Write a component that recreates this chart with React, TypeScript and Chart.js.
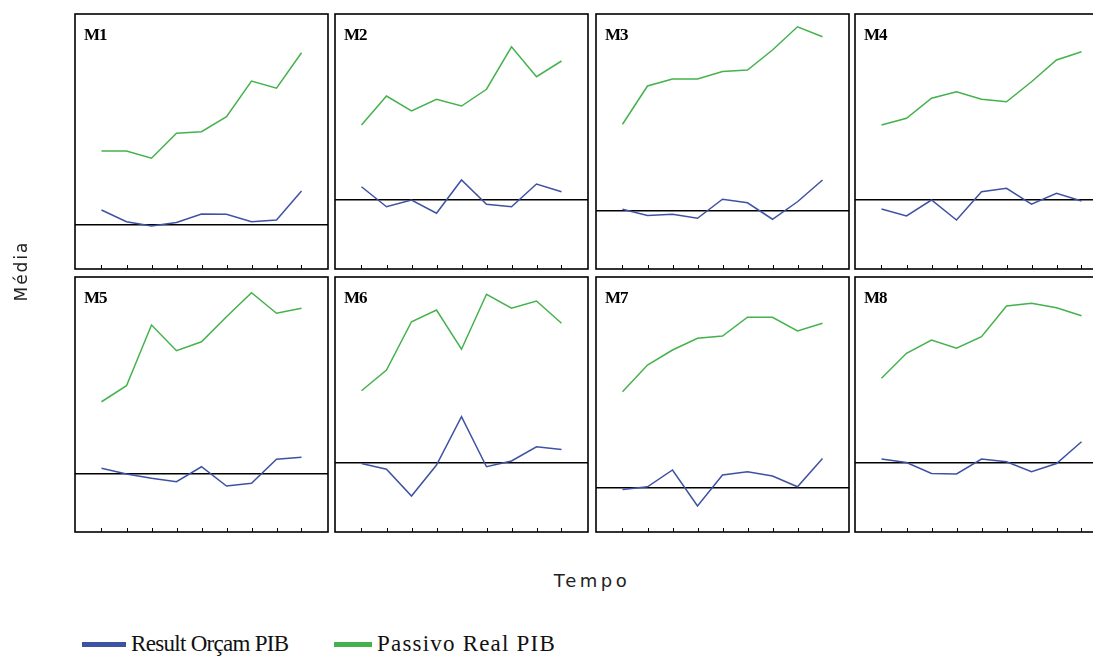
import React, { useEffect, useRef } from "react";
import { Chart, registerables } from "chart.js";

Chart.register(...registerables);

// ---- data ----
const periodos = ["1", "2", "3", "4", "5", "6", "7", "8", "9"];
const paineis = ["M1", "M2", "M3", "M4", "M5", "M6", "M7", "M8"];

const resultM1 = [5.7, 1.0, -0.7, 0.7, 4.1, 4.0, 1.0, 1.7, 13.3];
const resultM2 = [5.0, -3.0, -0.3, -5.6, 7.7, -2.0, -3.0, 6.1, 3.0];
const resultM3 = [0.4, -2.1, -1.6, -3.2, 4.4, 3.0, -3.6, 3.4, 12.1];
const resultM4 = [-3.9, -6.7, -0.3, -8.3, 3.0, 4.4, -2.0, 2.4, -0.7];
const resultM5 = [2.3, 0.0, -1.7, -3.1, 2.9, -4.8, -3.7, 5.9, 6.7];
const resultM6 = [-0.3, -2.6, -13.3, -0.9, 18.4, -1.6, 0.7, 6.4, 5.3];
const resultM7 = [-0.7, 0.4, 7.1, -7.3, 5.1, 6.4, 4.7, 0.4, 11.7];
const resultM8 = [1.5, 0.1, -4.3, -4.5, 1.5, 0.4, -3.6, -0.3, 8.4];

const passivoM1 = [29.3, 29.3, 26.4, 36.4, 37.0, 43.0, 57.3, 54.4, 68.6];
const passivoM2 = [29.7, 41.3, 35.3, 40.0, 37.3, 44.0, 61.0, 49.0, 55.3];
const passivoM3 = [34.4, 49.7, 52.5, 52.5, 55.5, 56.1, 64.1, 73.4, 69.4];
const passivoM4 = [29.7, 32.4, 40.4, 43.0, 40.0, 39.0, 47.0, 55.7, 59.0];
const passivoM5 = [28.9, 35.3, 59.6, 49.3, 52.9, 62.9, 72.5, 64.3, 66.3];
const passivoM6 = [28.8, 37.1, 56.4, 61.1, 45.4, 67.4, 61.8, 64.7, 55.8];
const passivoM7 = [38.4, 49.1, 55.1, 59.8, 60.7, 68.2, 68.2, 62.7, 65.8];
const passivoM8 = [33.8, 43.8, 49.1, 45.8, 50.4, 62.7, 63.8, 62.0, 58.8];

const yMin = [-17.9, -27.9, -23.5, -27.9, -23.2, -27.7, -17.7, -27.7];
const yMax = [84.1, 74.1, 78.5, 74.1, 78.8, 74.3, 84.3, 74.3];

const resultSeries = [resultM1, resultM2, resultM3, resultM4, resultM5, resultM6, resultM7, resultM8];
const passivoSeries = [passivoM1, passivoM2, passivoM3, passivoM4, passivoM5, passivoM6, passivoM7, passivoM8];

// ---- style ----
const BLUE = "#3f52a2";
const GREEN = "#44b24c";
const PAD = 2;
const PANEL_W = 253;
const PANEL_H = 255;
const COL_LEFT = [75, 335, 596, 855];
const ROW_TOP = [14, 277];

const frameAndTicks = {
  id: "frameAndTicks",
  afterDatasetsDraw(chart: any) {
    const { ctx, chartArea, scales } = chart;
    const x = scales.x;
    ctx.save();
    ctx.strokeStyle = "#000";
    ctx.lineWidth = 1;
    periodos.forEach((_, i) => {
      const px = Math.round(x.getPixelForValue(i)) + 0.5;
      ctx.beginPath();
      ctx.moveTo(px, chartArea.bottom);
      ctx.lineTo(px, chartArea.bottom - 4);
      ctx.stroke();
    });
    ctx.lineWidth = 1.6;
    ctx.strokeRect(chartArea.left, chartArea.top, chartArea.width, chartArea.height);
    ctx.restore();
  },
};

function Panel({ idx }: { idx: number }) {
  const ref = useRef<HTMLCanvasElement | null>(null);
  useEffect(() => {
    if (!ref.current) return;
    const toPts = (vals: number[]) => periodos.map((_, i) => ({ x: i, y: vals[i] }));
    const chart = new Chart(ref.current, {
      type: "line",
      data: {
        datasets: [
          {
            label: "Passivo Real PIB",
            data: toPts(passivoSeries[idx]),
            borderColor: GREEN,
            borderWidth: 1.5,
            pointRadius: 0,
            tension: 0,
            fill: false,
          },
          {
            label: "Result Orçam PIB",
            data: toPts(resultSeries[idx]),
            borderColor: BLUE,
            borderWidth: 1.5,
            pointRadius: 0,
            tension: 0,
            fill: false,
          },
        ],
      },
      options: {
        animation: false,
        responsive: false,
        maintainAspectRatio: false,
        layout: { padding: PAD },
        plugins: { legend: { display: false }, tooltip: { enabled: false } },
        scales: {
          x: { type: "linear", min: -1.06, max: 9.06, display: false },
          y: {
            type: "linear",
            min: yMin[idx],
            max: yMax[idx],
            ticks: { display: false },
            border: { display: false },
            grid: { drawTicks: false, color: "#000", lineWidth: 1.5 },
            afterBuildTicks: (s: any) => {
              s.ticks = [{ value: 0 }];
            },
          },
        },
      },
      plugins: [frameAndTicks],
    });
    return () => chart.destroy();
  }, [idx]);

  const col = idx % 4;
  const row = Math.floor(idx / 4);
  const left = COL_LEFT[col];
  const top = ROW_TOP[row];
  return (
    <>
      <canvas
        ref={ref}
        width={PANEL_W + 2 * PAD}
        height={PANEL_H + 2 * PAD}
        style={{ position: "absolute", left: left - PAD, top: top - PAD, display: "block" }}
      />
      <div
        style={{
          position: "absolute",
          left: left + 9,
          top: top + 12,
          fontFamily: "'Liberation Serif', serif",
          fontWeight: "bold",
          fontSize: 17,
          lineHeight: "18px",
          color: "#000",
          letterSpacing: "-1px",
        }}
      >
        {paineis[idx]}
      </div>
    </>
  );
}

export default function App() {
  return (
    <div
      style={{
        position: "absolute",
        left: 0,
        top: 0,
        width: 1093,
        height: 656,
        overflow: "hidden",
        background: "#fff",
      }}
    >
      {paineis.map((_, i) => (
        <Panel key={i} idx={i} />
      ))}
      <div
        style={{
          position: "absolute",
          left: 21,
          top: 271,
          transform: "translate(-50%, -50%) rotate(-90deg)",
          fontFamily: "'DejaVu Sans', sans-serif",
          fontSize: 17,
          letterSpacing: "2px",
          color: "#222",
          whiteSpace: "nowrap",
        }}
      >
        Média
      </div>
      <div
        style={{
          position: "absolute",
          left: 592,
          top: 570,
          transform: "translateX(-50%)",
          fontFamily: "'DejaVu Sans', sans-serif",
          fontSize: 18,
          letterSpacing: "3.5px",
          color: "#222",
          whiteSpace: "nowrap",
        }}
      >
        Tempo
      </div>
      <div
        style={{
          position: "absolute",
          left: 82,
          top: 629,
          display: "flex",
          alignItems: "center",
          fontFamily: "'Liberation Serif', serif",
          fontSize: 23,
          lineHeight: "30px",
          color: "#111",
          whiteSpace: "nowrap",
        }}
      >
        <span style={{ display: "inline-block", width: 44, height: 5, background: BLUE, marginRight: 5 }} />
        <span style={{ letterSpacing: "-0.7px", width: 203, display: "inline-block" }}>Result Orçam PIB</span>
        <span style={{ display: "inline-block", width: 38, height: 5, background: GREEN, marginRight: 5 }} />
        <span style={{ letterSpacing: "1.2px" }}>Passivo Real PIB</span>
      </div>
    </div>
  );
}
